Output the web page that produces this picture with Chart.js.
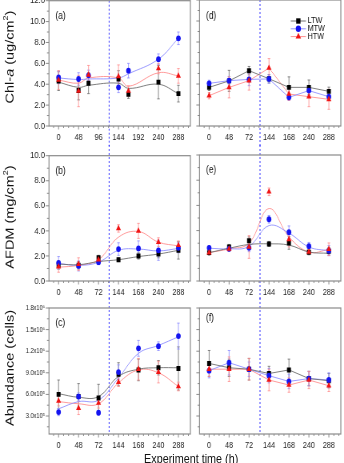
<!DOCTYPE html>
<html>
<head>
<meta charset="utf-8">
<title>Biofilm response over experiment time</title>
<script src="https://cdn.jsdelivr.net/npm/chart.js"></script>
<style>
  html, body { margin: 0; padding: 0; background: #fff; overflow: hidden; }
  /* whole figure is drawn wide and squeezed, like the original image */
  #figure { position: relative; width: 430px; height: 463px; transform: scaleX(0.8); transform-origin: 0 0;
            font-family: "Liberation Sans", Arial, sans-serif; }
  .panel { position: absolute; }
  #xtitle { position: absolute; left: 239px; top: 451px; transform: translateX(-50%);
            font-size: 13.5px; line-height: 15px; color: #111; white-space: nowrap; }
</style>
</head>
<body>
<div id="figure">
  <div class="panel" style="left:0;top:-10px"><canvas id="pa" width="242" height="156"></canvas></div>
  <div class="panel" style="left:238px;top:-10px"><canvas id="pd" width="192" height="156"></canvas></div>
  <div class="panel" style="left:0;top:145px"><canvas id="pb" width="242" height="156"></canvas></div>
  <div class="panel" style="left:238px;top:145px"><canvas id="pe" width="192" height="156"></canvas></div>
  <div class="panel" style="left:0;top:298px"><canvas id="pc" width="242" height="156"></canvas></div>
  <div class="panel" style="left:238px;top:298px"><canvas id="pf" width="192" height="156"></canvas></div>
  <div id="xtitle">Experiment time (h)</div>
</div>
<script>
// sampling times and tick labels
const sampleHours = [0, 48, 72, 144, 168, 240, 288];
const hourTicksA = [0, 48, 96, 144, 192, 240, 288];
const timeLabels = ['0', '48', '72', '144', '168', '240', '288'];
const seriesNames = ['LTW', 'MTW', 'HTW'];

const chlTicks = [0, 2, 4, 6, 8, 10, 12];
const afdmTicks = [0, 2, 4, 6, 8, 10];
const cellTicks = [3.0e5, 6.0e5, 9.0e5, 1.2e6, 1.5e6, 1.8e6];
const cellTickLabels = ['3.0x10⁵', '6.0x10⁵', '9.0x10⁵', '1.2x10⁶', '1.5x10⁶', '1.8x10⁶'];

// (a) Chl-a
const aLTW = [4.3, 3.4, 4.1, 4.5, 3.05, 4.2, 3.1];
const aLTWErr = [0.9, 0.9, 1.0, 0.8, 0.4, 1.6, 0.8];
const aMTW = [4.65, 4.5, 4.85, 3.7, 5.3, 6.4, 8.4];
const aMTWErr = [0.6, 0.6, 0.5, 0.5, 0.7, 0.5, 0.6];
const aHTW = [4.4, 3.35, 4.9, 4.75, 3.35, 5.5, 4.8];
const aHTWErr = [0.9, 1.5, 0.9, 1.1, 0.5, 0.5, 0.7];
const aLTWFit = [4.2, 3.7, 3.9, 4.1, 3.6, 4.0, 3.1];
const aMTWFit = [4.6, 4.45, 4.5, 4.6, 5.0, 6.4, 8.4];
const aHTWFit = [4.4, 4.1, 4.6, 4.6, 3.8, 5.1, 4.8];

// (b) AFDM
const bLTW = [1.25, 1.25, 1.85, 1.7, 2.0, 2.15, 2.45];
const bLTWErr = [0.3, 0.3, 0.2, 0.15, 0.25, 0.3, 0.7];
const bMTW = [1.45, 1.2, 1.5, 2.55, 2.6, 2.45, 2.65];
const bMTWErr = [0.5, 0.4, 0.2, 0.5, 0.6, 0.8, 0.4];
const bHTW = [1.15, 1.35, 1.7, 4.2, 4.0, 3.1, 2.85];
const bHTWErr = [0.45, 0.5, 0.25, 0.3, 0.6, 0.35, 0.35];
const bLTWFit = [1.35, 1.3, 1.55, 1.7, 1.95, 2.15, 2.45];
const bMTWFit = [1.4, 1.25, 1.5, 2.45, 2.55, 2.4, 2.6];
const bHTWFit = [1.1, 1.25, 1.7, 3.5, 3.95, 3.1, 2.8];

// (c) abundance
const cLTW = [6.0e5, 5.7e5, 5.5e5, 8.8e5, 9.4e5, 9.7e5, 9.6e5];
const cLTWErr = [2.0e5, 1.8e5, 1.9e5, 1.6e5, 1.5e5, 1.0e5, 3.0e5];
const cMTW = [3.55e5, 5.7e5, 3.45e5, 9.1e5, 1.24e6, 1.27e6, 1.41e6];
const cMTWErr = [0.5e5, 0.5e5, 0.3e5, 1.0e5, 1.1e5, 0.6e5, 1.8e5];
const cHTW = [5.1e5, 4.1e5, 4.8e5, 7.7e5, 9.5e5, 9.1e5, 7.1e5];
const cHTWErr = [0.7e5, 0.9e5, 0.7e5, 0.6e5, 1.5e5, 1.5e5, 0.6e5];
const cLTWFit = [6.1e5, 5.6e5, 5.7e5, 8.5e5, 9.5e5, 9.7e5, 9.7e5];
const cMTWFit = [4.0e5, 5.0e5, 5.2e5, 8.3e5, 1.17e6, 1.28e6, 1.4e6];
const cHTWFit = [5.0e5, 4.7e5, 4.7e5, 7.6e5, 9.4e5, 9.0e5, 7.1e5];

// (d) Chl-a
const dLTW = [3.68, 4.3, 5.27, 4.5, 3.68, 3.68, 3.3];
const dLTWErr = [0.3, 1.0, 0.4, 0.4, 1.0, 0.7, 0.4];
const dMTW = [4.06, 4.32, 4.44, 4.48, 2.73, 3.37, 2.79];
const dMTWErr = [0.3, 0.4, 0.6, 0.4, 0.3, 0.4, 0.3];
const dHTW = [2.89, 3.68, 4.32, 5.52, 3.05, 2.79, 2.54];
const dHTWErr = [0.3, 1.0, 0.9, 0.9, 0.6, 0.95, 0.95];

// (e) AFDM
const eLTW = [2.25, 2.7, 3.2, 2.94, 3.02, 2.28, 2.36];
const eLTWErr = [0.2, 0.2, 0.3, 0.2, 0.5, 0.2, 0.3];
const eMTW = [2.63, 2.55, 2.63, 4.9, 3.87, 2.76, 2.41];
const eMTWErr = [0.15, 0.2, 0.3, 0.3, 0.5, 0.3, 0.4];
const eHTW = [2.25, 2.55, 2.7, 7.08, 3.3, 2.3, 2.52];
const eHTWErr = [0.15, 0.2, 0.9, 0.3, 0.6, 0.2, 0.5];
const eLTWFit = [2.25, 2.6, 2.9, 2.95, 2.85, 2.3, 2.2];
const eMTWFit = [2.6, 2.55, 2.75, 4.4, 3.8, 2.7, 2.4];
const eHTWFit = [2.25, 2.55, 3.0, 5.75, 3.5, 2.3, 2.5];

// (f) abundance
const fLTW = [1.03e6, 9.7e5, 9.5e5, 8.9e5, 9.4e5, 8.2e5, 7.9e5];
const fLTWErr = [1.8e5, 1.2e5, 1.5e5, 1.0e5, 1.5e5, 1.0e5, 1.0e5];
const fMTW = [9.3e5, 1.04e6, 9.5e5, 8.6e5, 7.8e5, 8.2e5, 8.0e5];
const fMTWErr = [1.0e5, 1.7e5, 1.0e5, 1.0e5, 1.0e5, 1.0e5, 1.0e5];
const fHTW = [9.5e5, 9.5e5, 9.5e5, 8.0e5, 7.3e5, 8.0e5, 7.2e5];
const fHTWErr = [1.0e5, 1.7e5, 1.5e5, 1.5e5, 1.0e5, 1.2e5, 0.8e5];

const colors = ['#000000', '#1414f0', '#f01414'];
const fitColors = ['#707070', '#9090ff', '#ff9090'];
const errColors = ['#6a6a6a', '#8a8aff', '#ff8a8a'];
const styles = ['rect', 'circle', 'triangle'];
const radii = [3.5, 2.9, 3.6];
const FRAME = '#8a8a8a';
const FONT = '"Liberation Sans", Arial, sans-serif';

function steps(majors, per, min, max) {
  const st = (majors[1] - majors[0]) / (per + 1);
  const out = [];
  for (let v = majors[0] - Math.floor((majors[0] - min) / st) * st; v <= max + 1e-9; v += st) out.push(v);
  return out;
}

function drawMarker(ctx, style, x, y, r, color) {
  ctx.fillStyle = color;
  ctx.beginPath();
  if (style === 'rect') { const s = r / Math.SQRT2; ctx.rect(x - s, y - s, 2 * s, 2 * s); }
  else if (style === 'circle') ctx.arc(x, y, r, 0, Math.PI * 2);
  else { ctx.moveTo(x, y - r); ctx.lineTo(x + r * 0.87, y + r * 0.5); ctx.lineTo(x - r * 0.87, y + r * 0.5); ctx.closePath(); }
  ctx.fill();
}

const decor = {
  id: 'decor',
  beforeDatasetsDraw(chart, args, o) {
    const { ctx, chartArea: a, scales: { x, y } } = chart;
    ctx.save();
    // dashed divider
    const sx = x.getPixelForValue(o.split);
    ctx.strokeStyle = '#3232ff'; ctx.lineWidth = 1; ctx.setLineDash([2, 2]);
    ctx.beginPath();
    ctx.moveTo(sx, o.splitTop ? a.top : 0);
    ctx.lineTo(sx, o.splitBottom ? a.bottom : chart.height);
    ctx.stroke();
    ctx.setLineDash([]);
    // error bars
    chart.data.datasets.forEach(ds => {
      if (!ds.err) return;
      ctx.strokeStyle = ds.errColor; ctx.lineWidth = 0.8;
      ctx.beginPath();
      ds.data.forEach((p, i) => {
        const px = x.getPixelForValue(p.x);
        const y1 = y.getPixelForValue(p.y + ds.err[i]);
        const y2 = y.getPixelForValue(p.y - ds.err[i]);
        ctx.moveTo(px, y1); ctx.lineTo(px, y2);
        ctx.moveTo(px - 1.6, y1); ctx.lineTo(px + 1.6, y1);
        ctx.moveTo(px - 1.6, y2); ctx.lineTo(px + 1.6, y2);
      });
      ctx.stroke();
    });
    ctx.restore();
  },
  afterDraw(chart, args, o) {
    const { ctx, chartArea: a, scales: { x, y } } = chart;
    ctx.save();
    ctx.strokeStyle = FRAME; ctx.lineWidth = 1.2;
    ctx.strokeRect(a.left, a.top, a.right - a.left, a.bottom - a.top);
    ctx.lineWidth = 1;
    ctx.beginPath();
    steps(o.xMajor, 3, x.min, x.max).forEach(v => {
      const px = x.getPixelForValue(v);
      const major = o.xMajor.some(m => Math.abs(m - v) < 1e-6);
      ctx.moveTo(px, a.bottom); ctx.lineTo(px, a.bottom + (major ? 3.5 : 2));
    });
    steps(o.yMajor, 1, y.min, y.max).forEach(v => {
      const py = y.getPixelForValue(v);
      const major = o.yMajor.some(m => Math.abs(m - v) < 1e-6);
      ctx.moveTo(a.left, py); ctx.lineTo(a.left - (major ? 4 : 2.5), py);
    });
    ctx.stroke();
    // panel letter
    ctx.fillStyle = '#111';
    ctx.font = '10.5px ' + FONT;
    ctx.textBaseline = 'middle'; ctx.textAlign = 'left';
    ctx.fillText(o.letter, a.left + 8, a.top + o.letterY);
    // y title
    if (o.title) {
      ctx.translate(12.5, o.titleY);
      ctx.rotate(-Math.PI / 2);
      const parts = o.title.map(p => {
        const f = (p.italic ? 'italic ' : '') + (p.sup ? 9 : 14.5) + 'px ' + FONT;
        ctx.font = f;
        return { t: p.t, f, w: ctx.measureText(p.t).width, sup: p.sup };
      });
      let cx = -parts.reduce((s, p) => s + p.w, 0) / 2;
      ctx.fillStyle = '#111';
      parts.forEach(p => {
        ctx.font = p.f;
        ctx.fillText(p.t, cx, p.sup ? -5 : 0);
        cx += p.w;
      });
      ctx.setTransform(1, 0, 0, 1, 0, 0);
    }
    // legend
    if (o.legend) {
      ctx.font = '9px ' + FONT;
      seriesNames.forEach((n, i) => {
        const ly = a.top + 21 + i * 7.8;
        ctx.strokeStyle = fitColors[i]; ctx.lineWidth = 1;
        ctx.beginPath(); ctx.moveTo(a.left + 114, ly); ctx.lineTo(a.left + 133, ly); ctx.stroke();
        drawMarker(ctx, styles[i], a.left + 123.5, ly, radii[i] + 0.3, colors[i]);
        ctx.fillStyle = '#111';
        ctx.fillText(n, a.left + 135, ly);
      });
    }
    ctx.restore();
  }
};

function makePanel(id, cfg) {
  const xs = cfg.xs;
  const datasets = [];
  cfg.fits.forEach((f, i) => {
    datasets.push({
      data: xs.map((v, k) => ({ x: v, y: f[k] })),
      showLine: true, pointRadius: 0, borderColor: fitColors[i], borderWidth: 0.9,
      tension: cfg.tension, order: 10
    });
  });
  cfg.means.forEach((m, i) => {
    datasets.push({
      data: xs.map((v, k) => ({ x: v, y: m[k] })),
      err: cfg.errs[i], errColor: errColors[i],
      pointStyle: styles[i], pointRadius: radii[i], pointBackgroundColor: colors[i],
      pointBorderWidth: 0, order: 2 - i
    });
  });
  new Chart(document.getElementById(id), {
    type: 'scatter',
    data: { datasets },
    options: {
      responsive: false,
      animation: false,
      events: [],
      layout: { padding: { top: 10, right: cfg.right ? 3 : 4, left: 0, bottom: 0 } },
      plugins: {
        legend: { display: false }, tooltip: { enabled: false },
        decor: {
          split: cfg.split, splitTop: cfg.row === 0, splitBottom: cfg.row === 2,
          xMajor: cfg.xMajor, yMajor: cfg.yMajor, letter: cfg.letter, letterY: cfg.letterY,
          title: cfg.title, titleY: cfg.titleY, legend: cfg.legend
        }
      },
      scales: {
        x: {
          type: 'linear', min: cfg.xMin, max: cfg.xMax,
          grid: { display: false, drawTicks: false }, border: { display: false },
          afterBuildTicks: s => { s.ticks = cfg.xMajor.map(v => ({ value: v })); },
          afterFit: s => { s.height = 20; },
          ticks: {
            autoSkip: false, maxRotation: 0, padding: 6, color: '#222',
            font: { size: 9, family: FONT },
            callback: (v, i) => cfg.xLabels[i]
          }
        },
        y: {
          type: 'linear', min: cfg.yMin, max: cfg.yMax,
          grid: { display: false, drawTicks: false }, border: { display: false },
          afterBuildTicks: s => { s.ticks = cfg.yMajor.map(v => ({ value: v })); },
          afterFit: s => { s.width = cfg.right ? 11.4 : 61.25; },
          ticks: {
            display: !cfg.right, autoSkip: false, padding: 5, color: '#222',
            font: { size: cfg.ySize || 9.5, family: FONT },
            callback: cfg.yLabel
          }
        }
      }
    },
    plugins: [decor]
  });
}

const idx = sampleHours.map((h, i) => i);
const fixed1 = v => v.toFixed(1);
const cellLabel = (v, i) => cellTickLabels[i];
const IDX_MIN = -0.48, IDX_MAX = 6.6;

makePanel('pa', {
  xs: sampleHours, xMin: IDX_MIN * 48, xMax: IDX_MAX * 48, xMajor: hourTicksA, xLabels: hourTicksA.map(String),
  split: 2.53 * 48, row: 0, yMin: 0, yMax: 12, yMajor: chlTicks, yLabel: fixed1,
  means: [aLTW, aMTW, aHTW], errs: [aLTWErr, aMTWErr, aHTWErr], fits: [aLTWFit, aMTWFit, aHTWFit], tension: 0.4,
  letter: '(a)', letterY: 15,
  title: [{ t: 'Chl-' }, { t: 'a', italic: true }, { t: ' (ug/cm' }, { t: '2', sup: true }, { t: ')' }], titleY: 67
});
makePanel('pd', {
  xs: idx, xMin: IDX_MIN, xMax: IDX_MAX, xMajor: idx, xLabels: timeLabels, right: true,
  split: 2.55, row: 0, yMin: 0, yMax: 12, yMajor: chlTicks,
  means: [dLTW, dMTW, dHTW], errs: [dLTWErr, dMTWErr, dHTWErr], fits: [dLTW, dMTW, dHTW], tension: 0,
  letter: '(d)', letterY: 16, legend: true
});
makePanel('pb', {
  xs: idx, xMin: IDX_MIN, xMax: IDX_MAX, xMajor: idx, xLabels: timeLabels,
  split: 2.53, row: 1, yMin: 0, yMax: 10, yMajor: afdmTicks, yLabel: fixed1,
  means: [bLTW, bMTW, bHTW], errs: [bLTWErr, bMTWErr, bHTWErr], fits: [bLTWFit, bMTWFit, bHTWFit], tension: 0.4,
  letter: '(b)', letterY: 15,
  title: [{ t: 'AFDM (mg/cm' }, { t: '2', sup: true }, { t: ')' }], titleY: 72
});
makePanel('pe', {
  xs: idx, xMin: IDX_MIN, xMax: IDX_MAX, xMajor: idx, xLabels: timeLabels, right: true,
  split: 2.55, row: 1, yMin: 0, yMax: 10, yMajor: afdmTicks,
  means: [eLTW, eMTW, eHTW], errs: [eLTWErr, eMTWErr, eHTWErr], fits: [eLTWFit, eMTWFit, eHTWFit], tension: 0.4,
  letter: '(e)', letterY: 15
});
makePanel('pc', {
  xs: idx, xMin: IDX_MIN, xMax: IDX_MAX, xMajor: idx, xLabels: timeLabels,
  split: 2.53, row: 2, yMin: 0.5e5, yMax: 1.8e6, yMajor: cellTicks, yLabel: cellLabel, ySize: 7,
  means: [cLTW, cMTW, cHTW], errs: [cLTWErr, cMTWErr, cHTWErr], fits: [cLTWFit, cMTWFit, cHTWFit], tension: 0.4,
  letter: '(c)', letterY: 15,
  title: [{ t: 'Abundance (cells)' }], titleY: 70
});
makePanel('pf', {
  xs: idx, xMin: IDX_MIN, xMax: IDX_MAX, xMajor: idx, xLabels: timeLabels, right: true,
  split: 2.55, row: 2, yMin: 0.5e5, yMax: 1.8e6, yMajor: cellTicks,
  means: [fLTW, fMTW, fHTW], errs: [fLTWErr, fMTWErr, fHTWErr], fits: [fLTW, fMTW, fHTW], tension: 0,
  letter: '(f)', letterY: 10
});
</script>
</body>
</html>
